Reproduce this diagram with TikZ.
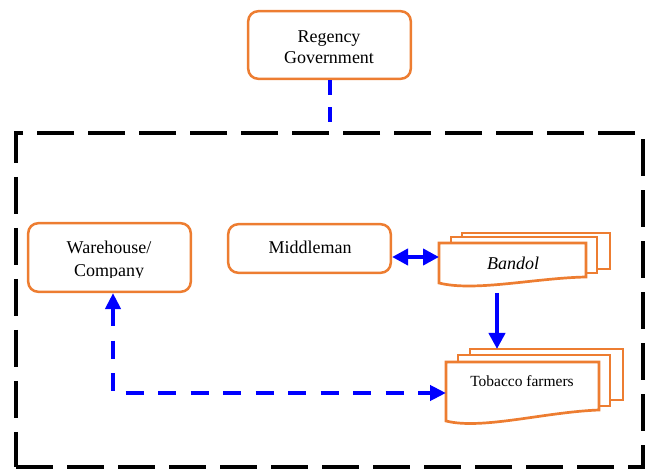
\documentclass[tikz,border=0pt]{standalone}
\usepackage{fontspec}
\setmainfont{Liberation Serif}
\usetikzlibrary{arrows.meta}
\definecolor{orng}{HTML}{ED7D31}
\definecolor{bblue}{HTML}{0000FF}
\begin{document}
\begin{tikzpicture}[x=1pt,y=-1pt,
  box/.style={draw=orng, line width=2.5pt, rounded corners=10pt, fill=white, inner sep=0pt, minimum width=162.6pt},
  pagebox/.style={draw=orng, line width=2.7pt, fill=white, inner sep=0pt, outer sep=0pt},
  pagepath/.style={draw=orng, line width=2.7pt, fill=white, line join=miter},
  anchorbox/.style={inner sep=0pt, outer sep=0pt},
  txt/.style={inner sep=0pt, font=\fontsize{18}{21}\selectfont},
  smalltxt/.style={inner sep=0pt, font=\fontsize{15.5}{18}\selectfont},
  bigframe/.style={draw=black, line width=4.7pt, dash pattern=on 37pt off 14pt, inner sep=0pt},
  barrow/.style={draw=bblue, line width=4pt, >={Triangle[length=16pt,width=16pt]}},
  bdasharrow/.style={draw=bblue, line width=4.5pt, dash pattern=on 18pt off 14.5pt, >={Triangle[length=16pt,width=15pt]}},
  blink/.style={draw=bblue, line width=4pt, dash pattern=on 15pt off 12pt}
]
\useasboundingbox (0,0) rectangle (646,470);

% outer dashed frame
\node[bigframe, minimum width=627pt, minimum height=334pt] (frame) at (329.5,300) {};

% boxes
\node[box, minimum height=67.6pt] (reg) at (329.5,45) {};
\node[txt, anchor=base] (regt1) at (329,43) {Regency};
\node[txt, anchor=base] (regt2) at (329,64) {Government};

\node[box, minimum height=68.6pt] (wh) at (109.5,257.5) {};
\node[txt, anchor=base] (wht1) at (109,254) {Warehouse/};
\begin{scope}
  \clip (20,200) rectangle (200,277.6);
  \node[txt, anchor=base] (wht2) at (109,277) {Company};
\end{scope}

\node[box, minimum height=48.6pt] (mid) at (309.5,248.5) {};
\node[txt, anchor=base] (midt) at (310,254) {Middleman};

% Bandol (multi-document)
\node[pagebox, minimum width=148pt, minimum height=36pt] (band3) at (536,251) {};
\node[pagebox, minimum width=146pt, minimum height=36pt] (band2) at (524,255) {};
\path[pagepath] (439,243) -- (586,243) -- (586,277)
   .. controls (535,278) and (475,292) .. (439,283) -- cycle;
\node[anchorbox, minimum width=147pt, minimum height=28pt] (bandolpg) at (512.5,257) {};
\node[txt, anchor=base] (bandt) at (513,270) {\itshape Bandol};

% Tobacco farmers (multi-document)
\node[pagebox, minimum width=153pt, minimum height=51pt] (tob3) at (546.5,374.5) {};
\node[pagebox, minimum width=152pt, minimum height=51pt] (tob2) at (534,380.5) {};
\path[pagepath] (446,362) -- (599,362) -- (599,410)
   .. controls (545,412) and (482,430) .. (446,421) -- cycle;
\node[anchorbox, minimum width=153pt, minimum height=50pt] (tobpg) at (522.5,393) {};
\node[smalltxt, anchor=base] (tobt) at (522,387) {Tobacco farmers};

% connectors
\draw[blink] (reg.south) -- ([yshift=7pt]frame.north);
\draw[barrow, <->] (bandolpg.west -| mid.east) -- (bandolpg.west);
\draw[barrow, ->] ([xshift=-15.5pt, yshift=-22pt]bandolpg.south) -- ([xshift=-15.5pt]bandolpg.south |- tob3.north);
\draw[bdasharrow, <->] ([xshift=3.5pt]wh.south) |- (tobpg.west);
\end{tikzpicture}
\end{document}
